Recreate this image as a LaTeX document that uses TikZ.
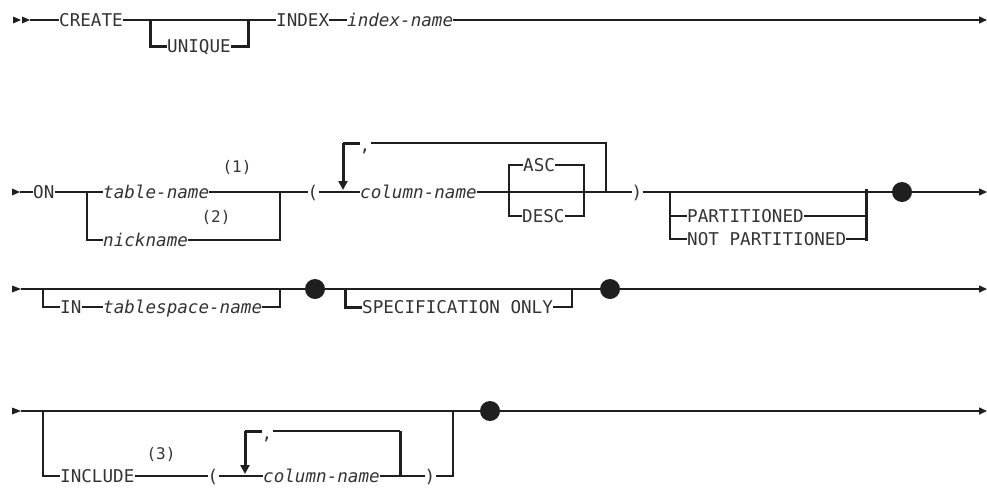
\documentclass[tikz,border=0pt]{standalone}
\usepackage{fontspec}
\usetikzlibrary{arrows.meta}
\newfontfamily\rrmono{DejaVu Sans Mono}
\begin{document}
\begin{tikzpicture}[x=1pt,y=-1pt,
  txt/.style={inner sep=0pt,text height=12.8pt,text depth=0pt,text=black!80,anchor=west,
    font=\rrmono\fontsize{17.6}{20}\selectfont},
  kw/.style={txt},
  var/.style={txt,font=\rrmono\itshape\fontsize{17.6}{20}\selectfont},
  par/.style={txt,anchor=center},
  note/.style={inner sep=0pt,text=black!80,font=\rrmono\fontsize{16}{18}\selectfont},
  ln/.style={line width=1.4pt,draw=black!88},
  bar/.style={line width=3pt,draw=black!88},
  endarrow/.style={ln,-{Triangle[length=8pt,width=7pt]}},
  looparrow/.style={bar,-{Triangle[length=9pt,width=9pt]}},
  dotnode/.style={circle,fill=black!88,inner sep=0pt,minimum size=20pt},
  starttri/.style={fill=black!88}]
\path[use as bounding box] (0,0) rectangle (987,488);

% ---------------- Row 1 ----------------
\fill[starttri] (13,16.5) -- (21,20) -- (13,23.5) -- cycle;
\fill[starttri] (22,16.5) -- (30,20) -- (22,23.5) -- cycle;
\coordinate (s1) at (30,20);
\node[kw] (create) at (59,20) {CREATE};
\node[kw] (unique) at (167,46) {UNIQUE};
\node[kw] (index) at (276,20) {INDEX};
\node[var] (iname) at (347,20) {index-name};
\coordinate (u1) at (150,20);
\coordinate (u2) at (248,20);
\coordinate (e1) at (987,20);
\draw[ln] (s1) -- (create.west);
\draw[ln] (create.east) -- (index.west);
\draw[bar] (u1) |- (unique.west);
\draw[bar] (unique.east) -| (u2);
\draw[ln] (index.east) -- (iname.west);
\draw[endarrow] (iname.east) -- (e1);

% ---------------- Row 2 ----------------
\fill[starttri] (12,188.5) -- (20,192) -- (12,195.5) -- cycle;
\coordinate (s2) at (20,192);
\node[kw] (on) at (33,192) {ON};
\node[var] (tname) at (103,192) {table-name};
\node[note] (n1) at (237,167) {(1)};
\node[var] (nick) at (103,240) {nickname};
\node[note] (n2) at (216,217) {(2)};
\coordinate (b2l) at (87,192);
\coordinate (b2r) at (280,192);
\node[par] (lp) at (313,192) {(};
\node[var] (cname) at (360,192) {column-name};
\coordinate (r0) at (343,190);
\coordinate (r1) at (343,143);
\coordinate (r2) at (606,143);
\coordinate (r3) at (606,192);
\node[par] (comma1) at (365,145) {,};
\node[kw] (asc) at (523,165) {ASC};
\node[kw] (desc) at (522,216) {DESC};
\coordinate (a1) at (509,192);
\coordinate (a2) at (584,192);
\node[par] (rp) at (637,192) {)};
\coordinate (p1) at (670,192);
\coordinate (p2) at (866,192);
\coordinate (pb1) at (866,189);
\coordinate (pb2) at (866,241);
\node[kw] (part) at (687,216) {PARTITIONED};
\node[kw] (notpart) at (687,239) {NOT PARTITIONED};
\node[dotnode] (d1) at (902,192) {};
\coordinate (e2) at (987,192);

\draw[ln] (s2) -- (on.west);
\draw[ln] (on.east) -- (tname.west);
\draw[ln] (tname.east) -- (b2r);
\draw[ln] (b2l) |- (nick.west);
\draw[ln] (nick.east) -| (b2r);
\draw[ln] (b2r) -- (lp.west);
\draw[ln] (lp.east) -- (cname.west);
\draw[looparrow] (r1) -- (r0);
\draw[bar] (r1) -- (comma1.west |- r1);
\draw[ln] (comma1.east |- r1) -- (r2) -- (r3);
\draw[ln] (cname.east) -- (rp.west);
\draw[ln] (a1) |- (asc.west);
\draw[ln] (asc.east) -| (a2);
\draw[ln] (a1) |- (desc.west);
\draw[ln] (desc.east) -| (a2);
\draw[ln] (rp.east) -- (d1);
\draw[ln] (p1) |- (part.west);
\draw[ln] (p1) |- (notpart.west);
\draw[ln] (part.east) -| (p2);
\draw[ln] (notpart.east) -| (p2);
\draw[bar] (pb1) -- (pb2);
\draw[endarrow] (d1) -- (e2);

% ---------------- Row 3 ----------------
\fill[starttri] (12,285.5) -- (21,289) -- (12,292.5) -- cycle;
\coordinate (s3) at (21,289);
\coordinate (i1) at (43,289);
\coordinate (i2) at (280,289);
\node[kw] (in) at (60,307) {IN};
\node[var] (ts) at (103,307) {tablespace-name};
\node[dotnode] (d2) at (315,289) {};
\coordinate (sp1) at (345,289);
\coordinate (sp2) at (572,289);
\node[kw] (spec) at (362,307) {SPECIFICATION ONLY};
\node[dotnode] (d3) at (610,289) {};
\coordinate (e3) at (987,289);

\draw[ln] (s3) -- (d2);
\draw[ln] (i1) |- (in.west);
\draw[ln] (in.east) -- (ts.west);
\draw[ln] (ts.east) -| (i2);
\draw[ln] (d2) -- (d3);
\draw[bar] (sp1) |- (spec.west);
\draw[ln] (spec.east) -| (sp2);
\draw[endarrow] (d3) -- (e3);

% ---------------- Row 4 ----------------
\fill[starttri] (12,407.5) -- (21,411) -- (12,414.5) -- cycle;
\coordinate (s4) at (21,411);
\coordinate (c1) at (43,411);
\coordinate (c2) at (453,411);
\node[kw] (incl) at (60,476) {INCLUDE};
\node[note] (n3) at (161,454) {(3)};
\node[par] (lp2) at (213,476) {(};
\node[var] (cname2) at (263,476) {column-name};
\node[par] (rp2) at (430,476) {)};
\coordinate (r4) at (245,431);
\coordinate (r4b) at (245,474);
\coordinate (r5) at (400,431);
\coordinate (r6) at (400,476);
\node[par] (comma2) at (267,433) {,};
\node[dotnode] (d4) at (490,411) {};
\coordinate (e4) at (987,411);

\draw[ln] (s4) -- (d4);
\draw[ln] (c1) |- (incl.west);
\draw[ln] (incl.east) -- (lp2.west);
\draw[ln] (lp2.east) -- (cname2.west);
\draw[ln] (cname2.east) -- (rp2.west);
\draw[ln] (rp2.east) -| (c2);
\draw[looparrow] (r4) -- (r4b);
\draw[bar] (r4) -- (comma2.west |- r4);
\draw[ln] (comma2.east |- r4) -- (r5);
\draw[bar] (r5) -- (r6);
\draw[endarrow] (d4) -- (e4);
\end{tikzpicture}
\end{document}
